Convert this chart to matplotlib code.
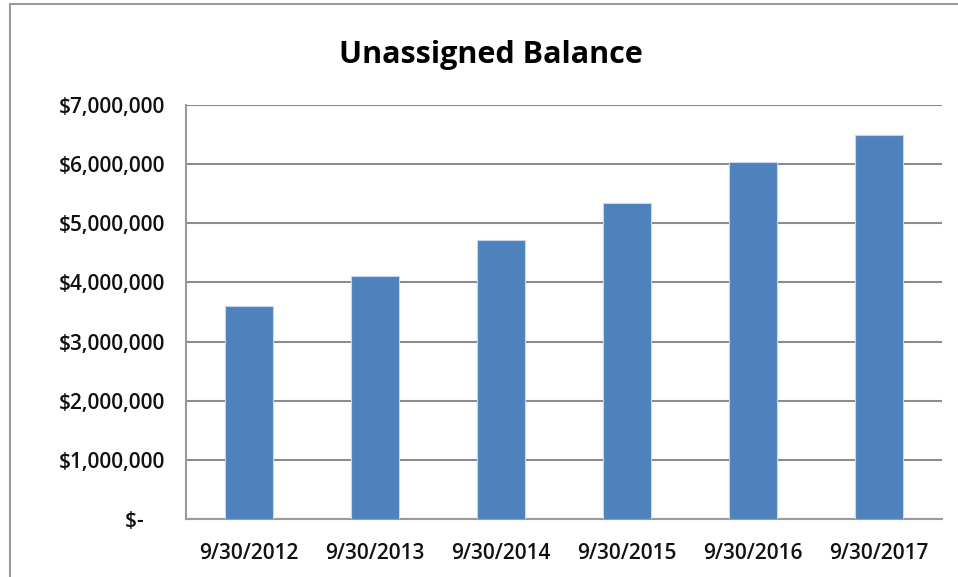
import matplotlib.pyplot as plt
from matplotlib.patches import Rectangle
from matplotlib.ticker import FuncFormatter

# Unassigned balance at fiscal year end
dates = ['9/30/2012', '9/30/2013', '9/30/2014', '9/30/2015', '9/30/2016', '9/30/2017']
balances = [3600000, 4110000, 4720000, 5340000, 6040000, 6500000]

plt.rcParams['font.family'] = ['Open Sans', 'DejaVu Sans']

fig = plt.figure(figsize=(9.58, 5.77), dpi=100)
ax = fig.add_axes([0.194, 0.1005, 0.789, 0.7175])

# Outer chart frame (top and left edges visible)
fig.patches.append(Rectangle((10 / 958, -0.1), 1.2, (577 - 4) / 577 + 0.1,
                             transform=fig.transFigure, fill=False,
                             edgecolor='#9a9a9a', linewidth=1.5))

x = range(len(dates))
ax.bar(x, balances, width=0.38, color='#4f81bd', edgecolor='#c7d6ea',
       linewidth=0.8, zorder=3)

ax.set_xlim(-0.5, len(dates) - 0.5)
ax.set_ylim(0, 7000000)
ax.set_yticks(range(0, 7000001, 1000000))
# accounting style: zero shown as "$-" sitting a bit left
ax.yaxis.set_major_formatter(FuncFormatter(
    lambda v, p: '$-    ' if v == 0 else f'${v:,.0f}'))
ax.set_xticks(list(x))
ax.set_xticklabels(dates)

ax.grid(axis='y', color='#8c8c8c', linewidth=1.5, zorder=0)
for s in ['top', 'right']:
    ax.spines[s].set_visible(False)
for s in ['left', 'bottom']:
    ax.spines[s].set_color('#9a9a9a')
    ax.spines[s].set_linewidth(1.5)

ax.tick_params(axis='both', length=0, labelsize=15, labelcolor='#111111')
for lab in ax.get_xticklabels() + ax.get_yticklabels():
    lab.set_fontweight('semibold')
ax.tick_params(axis='y', pad=15)
ax.tick_params(axis='x', pad=17)

fig.text(0.512, 0.905, 'Unassigned Balance', ha='center', va='center',
         fontsize=22, fontweight='bold', color='black')

fig.savefig('out.png')
print("Generated: out.png")
